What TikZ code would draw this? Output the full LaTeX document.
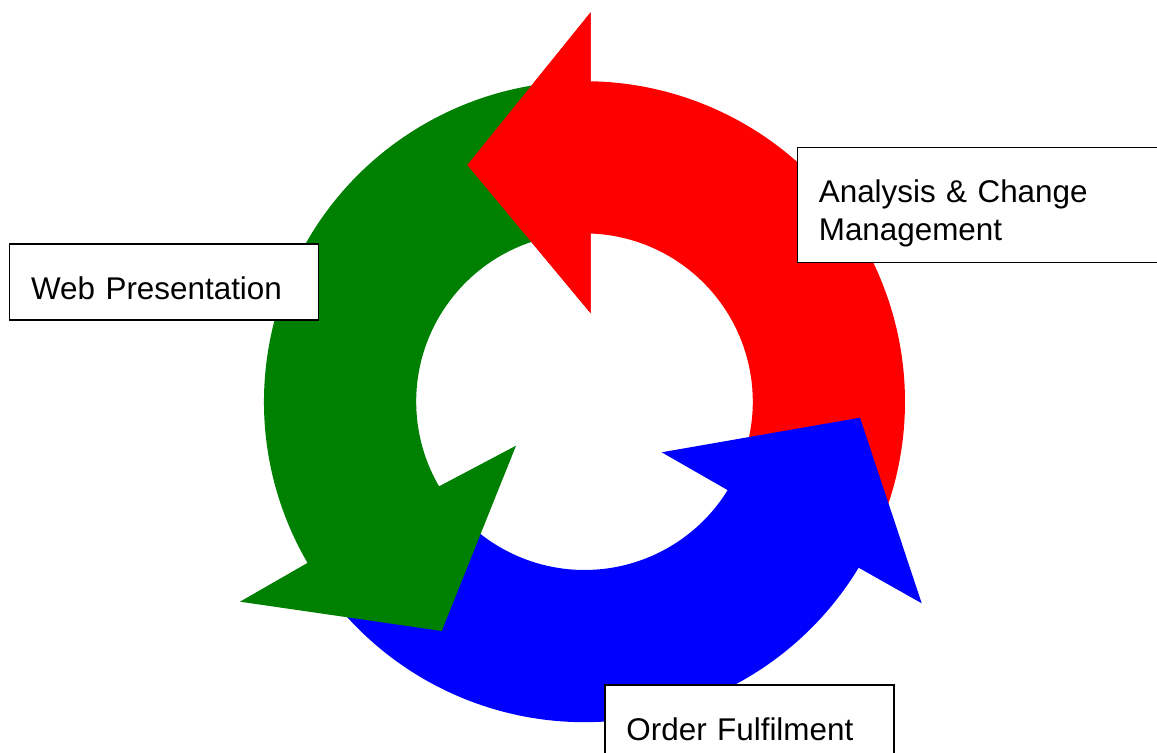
\documentclass[tikz,border=0pt]{standalone}
\usepackage{fontspec}
\setmainfont{Liberation Sans}
\usepackage{tikz}
\usetikzlibrary{calc}
\definecolor{CycleRed}{HTML}{FF0000}
\definecolor{CycleGreen}{HTML}{008000}
\definecolor{CycleBlue}{HTML}{0000FF}
\newcommand{\rin}{84.15pt}
\newcommand{\rout}{160.25pt}

\begin{document}
\begin{tikzpicture}[
  x=0.5pt, y=0.5pt,
  tag/.style={draw=black, line width=0.65pt, fill=white, anchor=north west, align=left, inner xsep=10.75pt, inner ysep=0pt, text height=27.75pt, font={\fontsize{15.7pt}{18.65pt}\selectfont}}]
\useasboundingbox (0,0) rectangle (1157,753);
\clip (0,0) rectangle (1157,753);
\coordinate (c) at (584.5,351.3);
\coordinate (r-in) at (590.7,439.7);
\coordinate (r-tip) at (467.3,588);
\coordinate (r-out) at (590.7,740.7);
\coordinate (b-in) at (661.7,300.7);
\coordinate (b-tip) at (860,335.3);
\coordinate (b-out) at (921.7,149.7);
\coordinate (g-in) at (516,307.3);
\coordinate (g-tip) at (441.7,122);
\coordinate (g-out) at (240,151.3);
\fill[CycleRed] ($(c)+(-22:\rin)$) arc[start angle=-22, end angle=87.9, radius=\rin] -- (r-in) -- (r-tip) -- (r-out) -- ($(c)+(88.9:\rout)$) arc[start angle=88.9, end angle=-22, radius=\rout] -- cycle;
\fill[CycleBlue] ($(c)+(216:\rin)$) arc[start angle=216, end angle=328.3, radius=\rin] -- (b-in) -- (b-tip) -- (b-out) -- ($(c)+(328.8:\rout)$) arc[start angle=328.8, end angle=216, radius=\rout] -- cycle;
\fill[CycleGreen] ($(c)+(95:\rin)$) arc[start angle=95, end angle=210.2, radius=\rin] -- (g-in) -- (g-tip) -- (g-out) -- ($(c)+(210.2:\rout)$) arc[start angle=210.2, end angle=95, radius=\rout] -- cycle;
\fill[CycleRed] ($(c)+(87.9:\rin)$) -- (r-in) -- (r-tip) -- (r-out) -- ($(c)+(88.9:\rout)$) -- cycle;
\node[tag, text width=132.85pt, text depth=10.25pt] (web) at (9,509.7) {Web Presentation};
\node[tag, text width=165pt, text depth=29.75pt] (acm) at (796.7,606.3) {Analysis \& Change\\Management};
\node[tag, text width=123pt, text depth=10.5pt] (order) at (604.3,68.7) {Order Fulfilment};
\end{tikzpicture}
\end{document}
